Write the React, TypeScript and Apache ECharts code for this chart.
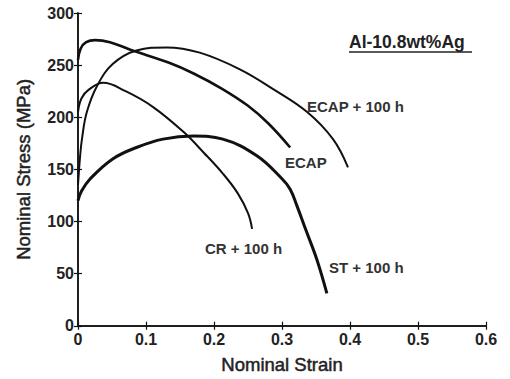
import React, { useEffect, useRef } from "react";
import * as echarts from "echarts";

const xTicks = [0, 0.1, 0.2, 0.3, 0.4, 0.5, 0.6];
const yTicks = [0, 50, 100, 150, 200, 250, 300];

const ecap100h: [number, number][] = [
  [0, 135], [0.003, 162], [0.006, 180], [0.013, 205], [0.028, 230], [0.051, 251],
  [0.086, 264], [0.13, 267], [0.179, 262], [0.238, 246], [0.287, 227], [0.337, 205],
  [0.375, 179], [0.397, 152],
];
const ecap: [number, number][] = [
  [0, 255], [0.004, 266], [0.012, 272], [0.025, 274], [0.047, 272], [0.076, 265],
  [0.135, 252], [0.17, 242], [0.21, 228], [0.25, 211], [0.28, 194], [0.312, 171],
];
const cr100h: [number, number][] = [
  [0, 205], [0.005, 218], [0.015, 226], [0.037, 233], [0.07, 225], [0.11, 210],
  [0.155, 186], [0.185, 166], [0.213, 146], [0.235, 127], [0.25, 108], [0.256, 93],
];
const st100h: [number, number][] = [
  [0, 120], [0.005, 129], [0.018, 141], [0.051, 160], [0.086, 171], [0.125, 179],
  [0.17, 182], [0.213, 179], [0.263, 163], [0.3, 141], [0.312, 131], [0.322, 115],
  [0.335, 92], [0.351, 64], [0.366, 31],
];

const seriesNames = ["ECAP + 100 h", "ECAP", "CR + 100 h", "ST + 100 h"];
const alloyLabel = "Al-10.8wt%Ag";

export default function App() {
  const ref = useRef<HTMLDivElement>(null);
  useEffect(() => {
    document.body.style.margin = "0";
    const chart = echarts.init(ref.current!, null, { renderer: "svg" });
    const font = "Liberation Sans, Arial, sans-serif";
    const axisLine = { show: true, lineStyle: { color: "#111", width: 1.5 } };
    const axisTick = { show: true, inside: true, length: 4, lineStyle: { color: "#111", width: 1.2 } };
    const labelStyle = { fontSize: 16, color: "#222", fontFamily: font, fontWeight: "bold" as const };
    const titleStyle = {
      fontSize: 18.5, color: "#222", fontFamily: font, fontWeight: "normal" as const,
      textBorderColor: "#222", textBorderWidth: 0.5,
    };
    const line = (data: [number, number][], width: number) => ({
      type: "line",
      data,
      smooth: 0.4,
      showSymbol: false,
      symbol: "none",
      lineStyle: { color: "#111", width },
      xAxisIndex: 0,
      yAxisIndex: 0,
    });
    const lbl = (text: string, left: number, top: number) => ({
      type: "text", left, top,
      style: { text, fontSize: 15, fontWeight: "bold", fill: "#333", fontFamily: font },
    });
    chart.setOption({
      animation: false,
      backgroundColor: "#fff",
      grid: { left: 78, right: 24, top: 13, bottom: 51, containLabel: false },
      xAxis: [
        {
          type: "value", min: 0, max: 0.6, interval: 0.1, position: "bottom",
          axisLine, axisTick, splitLine: { show: false },
          axisLabel: { ...labelStyle, margin: 6, formatter: (v: number) => String(+v.toFixed(1)) },
          name: "Nominal Strain", nameLocation: "middle", nameGap: 29,
          nameTextStyle: titleStyle,
        },
        {
          type: "value", min: 0, max: 0.6, interval: 0.1, position: "top",
          axisLine, axisTick, splitLine: { show: false }, axisLabel: { show: false },
        },
      ],
      yAxis: [
        {
          type: "value", min: 0, max: 300, interval: 50, position: "left",
          axisLine, axisTick, splitLine: { show: false },
          axisLabel: { ...labelStyle, margin: 4 },
          name: "Nominal Stress (MPa)", nameLocation: "middle", nameGap: 45, nameRotate: 90,
          nameTextStyle: titleStyle,
        },
        {
          type: "value", min: 0, max: 300, interval: 50, position: "right",
          axisLine, axisTick, splitLine: { show: false }, axisLabel: { show: false },
        },
      ],
      series: [
        { name: seriesNames[0], ...line(ecap100h, 2) },
        { name: seriesNames[1], ...line(ecap, 2.6) },
        { name: seriesNames[2], ...line(cr100h, 2) },
        { name: seriesNames[3], ...line(st100h, 3) },
      ],
      graphic: [
        { type: "text", left: 349, top: 33, style: { text: alloyLabel, fontSize: 17.5, fontWeight: "bold", fill: "#222", fontFamily: font } },
        { type: "line", shape: { x1: 349, y1: 52, x2: 472, y2: 52 }, style: { stroke: "#222", lineWidth: 1.5 } },
        lbl(seriesNames[0], 307, 99),
        lbl(seriesNames[1], 285, 155),
        lbl(seriesNames[2], 205, 241),
        lbl(seriesNames[3], 329, 260),
      ],
    });
    return () => chart.dispose();
  }, []);
  return <div ref={ref} style={{ position: "absolute", left: 0, top: 0, width: 510, height: 379 }} />;
}
